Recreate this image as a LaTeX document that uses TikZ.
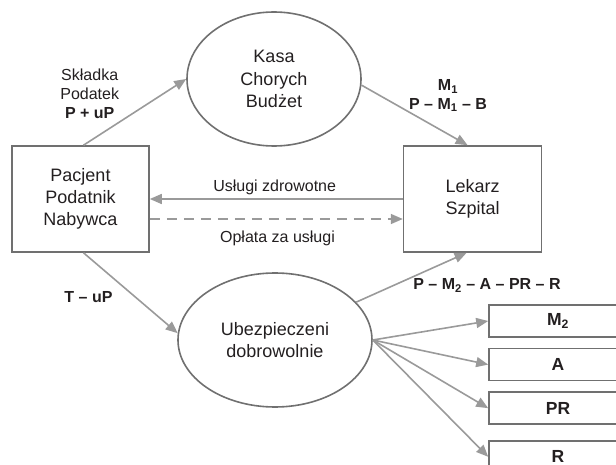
\documentclass[tikz,border=0pt]{standalone}
\usepackage{fontspec}
\setmainfont{Liberation Sans}
\usetikzlibrary{positioning, arrows.meta, shapes.geometric, calc}
\definecolor{linegray}{HTML}{9A9A9A}
\definecolor{boxgray}{HTML}{707070}
\definecolor{txtgray}{HTML}{231F20}

\begin{document}
\begin{tikzpicture}[
		x=1pt, y=-1pt,
		>={Triangle[length=12pt, width=10pt]},
		actor/.style={draw=boxgray, line width=1.6pt, minimum width=137pt, minimum height=106pt, inner sep=0pt, align=center, text=txtgray, font=\fontsize{18}{22.3}\selectfont},
		fund/.style={ellipse, draw=boxgray, line width=1.6pt, inner sep=0pt, align=center, text=txtgray, font=\fontsize{18}{22.3}\selectfont},
		cost/.style={draw=boxgray, line width=1.6pt, minimum width=138pt, minimum height=32pt, inner sep=0pt, text=txtgray, font=\fontsize{17.5}{20}\selectfont\bfseries},
		flow/.style={->, draw=linegray, line width=1.6pt},
		lbl/.style={align=center, text=txtgray, font=\fontsize{16}{18.7}\selectfont},
		lblb/.style={lbl, font=\fontsize{16}{18.7}\selectfont\bfseries}
		]
		
		\useasboundingbox (0,0) rectangle (616,465);
		\clip (0,0) rectangle (616,465);
		
		% ==========================================
		% 1. MAIN ACTORS
		% ==========================================
		\node[actor] (pacjent) at (80.5,199) {Pacjent\\Podatnik\\Nabywca};
		\node[actor, right=253pt of pacjent, minimum width=138pt] (lekarz) {Lekarz\\Szpital};
		
		\node[fund, minimum width=174pt, minimum height=134pt] (kasa) at (274,79) {Kasa\\Chorych\\Budżet};
		\node[fund, minimum width=194pt, minimum height=134pt] (ubezp) at (275,340) {Ubezpieczeni\\dobrowolnie};
		
		% ==========================================
		% 2. COST ITEMS (cut at the page edge)
		% ==========================================
		\node[cost] (m2) at (558,321) {M\textsubscript{2}};
		\node[cost, below=10pt of m2] (a) {A};
		\node[cost, below=10pt of a] (pr) {PR};
		\node[cost, below=15pt of pr] (r) {R};
		
		% ==========================================
		% 3. FLOWS
		% ==========================================
		\draw[flow] ($(pacjent.north)+(3,0)$) -- (kasa.west);
		\node[lbl] (skladka) at (89.7,93.7) {Składka\\Podatek\\\textbf{P + uP}};
		
		\draw[flow] (kasa.-4) -- ($(lekarz.north)+(-5,0)$);
		\node[lblb] (m1) at (448,95.8) {M\textsubscript{1}\\P – M\textsubscript{1} – B};
		
		\draw[flow] (lekarz.west) -- (pacjent.east);
		\node[lbl, anchor=base] (uslugi) at (274.7,191.7) {Usługi zdrowotne};
		
		\draw[flow, dash pattern=on 10pt off 7pt] ($(pacjent.east)+(0,20)$) -- ($(lekarz.west)+(0,20)$);
		\node[lbl, anchor=base] (oplata) at (277.5,243) {Opłata za usługi};
		
		\draw[flow] ($(pacjent.south)+(3,0)$) -- (ubezp.176);
		\node[lblb, anchor=base] (tup) at (88.5,302.7) {T – uP};
		
		\draw[flow] (ubezp.25) -- ($(lekarz.south)+(-6,0)$);
		\node[lblb, anchor=base] (pm2) at (487,290) {P – M\textsubscript{2} – A – PR – R};
		
		\foreach \item in {m2, a, pr, r}
		\draw[flow] (ubezp.east) -- (\item.west);
		
	\end{tikzpicture}
\end{document}
